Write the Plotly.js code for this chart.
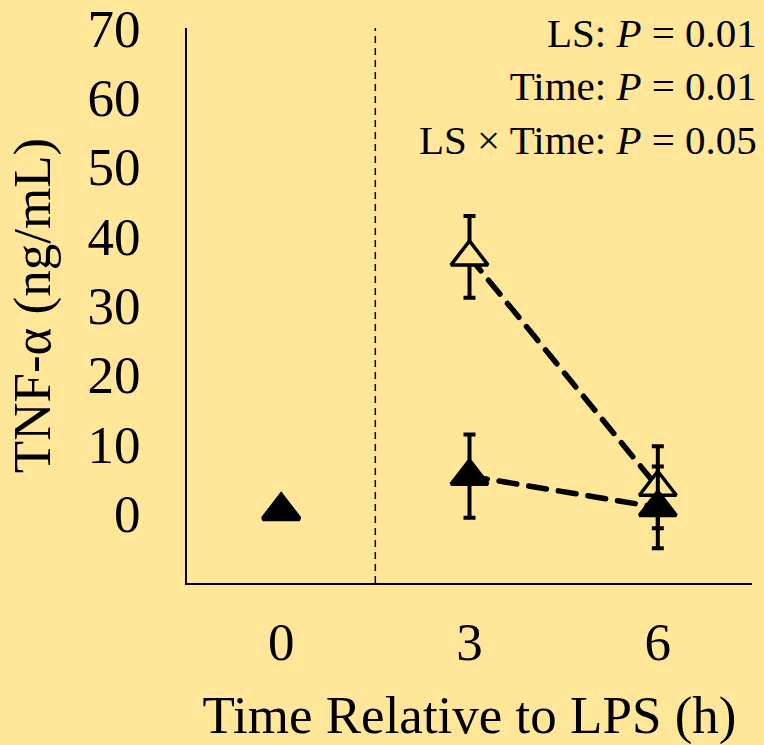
<!DOCTYPE html>
<html>
<head>
<meta charset="utf-8">
<script src="https://cdn.plot.ly/plotly-3.0.1.min.js"></script>
<style>
  html, body { margin: 0; padding: 0; background: #FFE699; }
  #chart { width: 764px; height: 745px; }
  .js-line { stroke-linecap: round; }
</style>
</head>
<body>
<div id="chart"></div>
<script>
// ---- data ----
const timeLabels = ['0', '3', '6'];           // Time relative to LPS (h)
const openMean   = [0.3, 37.0, 3.8];          // open triangles
const openErr    = [0.3, 5.9, 5.9];
const filledMean = [0.5, 5.4, 0.9];           // filled triangles
const filledErr  = [0.3, 6.0, 5.9];
const yTicks     = [0, 10, 20, 30, 40, 50, 60, 70];
const statLines  = ['LS: <i>P</i> = 0.01', 'Time: <i>P</i> = 0.01', 'LS × Time: <i>P</i> = 0.05'];

const BG = '#FFE699';
const FONT = '"Liberation Serif", "Times New Roman", Times, serif';
const xPos = timeLabels.map((_, i) => i);

function lineTrace(mean) {
  return {
    x: xPos.slice(1), y: mean.slice(1), mode: 'lines', type: 'scatter',
    line: { color: '#000', width: 5.5, dash: '18px,12px' },
    hoverinfo: 'skip', showlegend: false
  };
}
function markerTrace(mean, err, fill) {
  return {
    x: xPos, y: mean, mode: 'markers', type: 'scatter',
    marker: { symbol: 'triangle-up', size: 32, color: fill, line: { color: '#000', width: 3.5 } },
    error_y: { type: 'data', array: err, visible: true, color: '#000', thickness: 4, width: 6 },
    showlegend: false
  };
}

const data = [
  lineTrace(openMean),
  lineTrace(filledMean),
  markerTrace(openMean, openErr, BG),
  markerTrace(filledMean, filledErr, '#000')
];

const layout = {
  width: 764, height: 745,
  paper_bgcolor: BG, plot_bgcolor: BG,
  margin: { l: 187, r: 12, t: 28, b: 162, pad: 0 },
  font: { family: FONT, color: '#000', size: 53 },
  showlegend: false,
  xaxis: {
    range: [-0.5, 2.5], tickvals: xPos, ticktext: timeLabels,
    showline: true, linecolor: '#000', linewidth: 2,
    showgrid: false, zeroline: false, ticks: '',
    ticklabelstandoff: 11, ticklabeloverflow: 'allow',
    tickfont: { family: FONT, size: 53 },
    title: { text: 'Time Relative to LPS (h)', font: { family: FONT, size: 53 }, standoff: 40 },
    fixedrange: true
  },
  yaxis: {
    range: [-10, 70], tickvals: yTicks,
    showline: true, linecolor: '#000', linewidth: 2,
    showgrid: false, zeroline: false, ticks: '',
    ticklabelstandoff: 34, ticklabeloverflow: 'allow',
    tickfont: { family: FONT, size: 53 },
    title: { text: 'TNF-α (ng/mL)', font: { family: FONT, size: 53 }, standoff: 20 },
    fixedrange: true
  },
  shapes: [{
    type: 'line', xref: 'x', yref: 'paper', x0: 0.5, x1: 0.5, y0: 0, y1: 1,
    line: { color: '#000', width: 1.5, dash: '7px,5px' }
  }],
  annotations: [{
    xref: 'paper', yref: 'paper', x: 1, y: 1, xanchor: 'right', yanchor: 'top',
    xshift: 7, yshift: 20, align: 'right', showarrow: false,
    text: statLines.join('<br>'),
    font: { family: FONT, size: 41, color: '#000' }
  }]
};

Plotly.newPlot('chart', data, layout, { staticPlot: true, displayModeBar: false });
</script>
</body>
</html>
